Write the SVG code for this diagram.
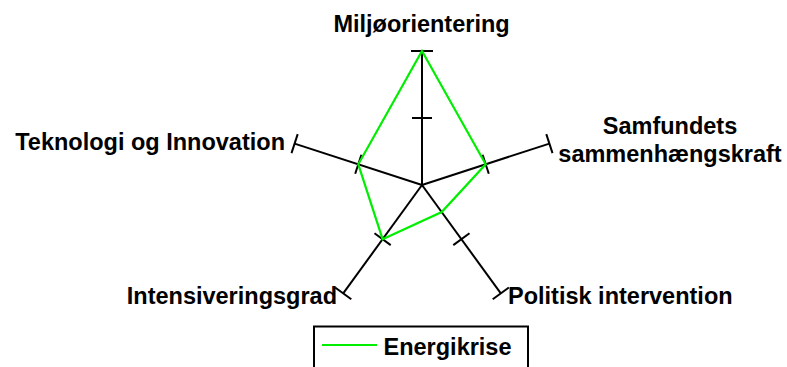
<svg xmlns="http://www.w3.org/2000/svg" width="787" height="367" viewBox="0 0 787 367">
<style>
.axis{stroke:#000;stroke-width:2;fill:none}
.tick{stroke:#000;stroke-width:2;fill:none}
.data{stroke:#00ee00;stroke-width:2.2;fill:none;stroke-linejoin:miter}
.lbl{font-family:"Liberation Sans",Arial,sans-serif;font-weight:bold;font-size:23.5px;fill:#000}
</style>
<rect width="787" height="367" fill="#fff"/>
<g id="connectors">
<line class="axis" x1="422" y1="185" x2="422" y2="51"/>
<line class="axis" x1="422" y1="185" x2="549.4" y2="143.6"/>
<line class="axis" x1="422" y1="185" x2="500.8" y2="293.4"/>
<line class="axis" x1="422" y1="185" x2="343.2" y2="293.4"/>
<line class="axis" x1="422" y1="185" x2="294.6" y2="143.6"/>
<!-- end ticks -->
<line class="tick" x1="411" y1="51" x2="433" y2="51"/>
<line class="tick" x1="546.3" y1="134.1" x2="552.5" y2="153.1"/>
<line class="tick" x1="508.9" y1="287.5" x2="492.7" y2="299.3"/>
<line class="tick" x1="335.1" y1="287.5" x2="351.3" y2="299.3"/>
<line class="tick" x1="291.5" y1="153.1" x2="297.7" y2="134.1"/>
<!-- mid ticks -->
<line class="tick" x1="412" y1="118" x2="432" y2="118"/>
<line class="tick" x1="482.6" y1="154.8" x2="488.8" y2="173.8"/>
<line class="tick" x1="469.5" y1="233.3" x2="453.3" y2="245.1"/>
<line class="tick" x1="374.5" y1="233.3" x2="390.7" y2="245.1"/>
<line class="tick" x1="355.2" y1="173.8" x2="361.4" y2="154.8"/>
<polygon class="data" points="422,51 485.7,164.3 441.7,212.1 382.6,239.2 358.3,164.3"/>
</g>
<g id="n-miljo"><text class="lbl" x="421.5" y="32" text-anchor="middle">Miljøorientering</text></g>
<g id="n-samfund"><text class="lbl" x="670" y="133.5" text-anchor="middle">Samfundets</text><text class="lbl" x="670" y="161.5" text-anchor="middle">sammenhængskraft</text></g>
<g id="n-politisk"><text class="lbl" x="508" y="303.5">Politisk intervention</text></g>
<g id="n-intens"><text class="lbl" x="337" y="303.5" text-anchor="end">Intensiveringsgrad</text></g>
<g id="n-tekno"><text class="lbl" x="285" y="149.5" text-anchor="end">Teknologi og Innovation</text></g>
<g id="legend">
<rect x="314" y="326.5" width="214" height="50" fill="none" stroke="#000" stroke-width="2"/>
<line x1="322" y1="345" x2="377" y2="345" stroke="#00ee00" stroke-width="2.2"/>
<text class="lbl" x="383.5" y="355">Energikrise</text>
</g>
</svg>
